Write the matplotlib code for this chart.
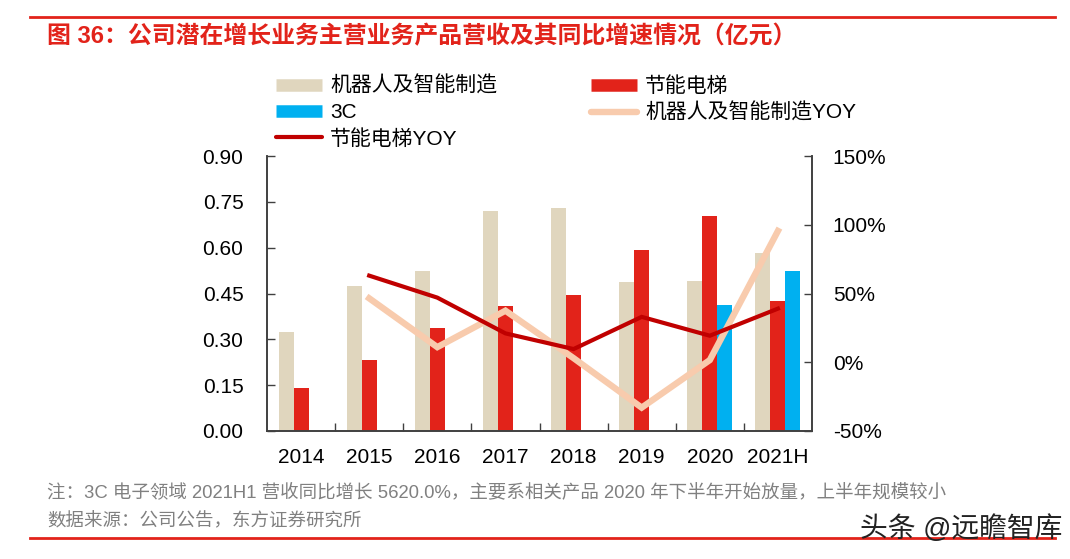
import matplotlib
matplotlib.use("Agg")
import matplotlib.pyplot as plt
import numpy as np
from matplotlib.lines import Line2D
from matplotlib.ticker import FuncFormatter, FixedLocator

plt.rcParams['font.family'] = ['Liberation Sans', 'Noto Sans CJK SC', 'DejaVu Sans']

categories = ['2014', '2015', '2016', '2017', '2018', '2019', '2020', '2021H']
robot = [0.325, 0.475, 0.524, 0.719, 0.731, 0.487, 0.491, 0.583]
elevator = [0.142, 0.232, 0.338, 0.408, 0.445, 0.592, 0.704, 0.424]
c3 = [np.nan, np.nan, np.nan, np.nan, np.nan, np.nan, 0.412, 0.523]
robot_yoy = [np.nan, 46.5, 11.0, 37.5, 3.0, -33.0, 1.6, 95.5]
elevator_yoy = [np.nan, 63.0, 47.0, 21.0, 9.6, 33.0, 19.3, 39.0]

C_BEIGE = '#E0D6BE'
C_RED = '#E2231A'
C_BLUE = '#00B0F0'
C_PEACH = '#F8CBAD'
C_DRED = '#C00000'

fig = plt.figure(figsize=(10.7, 5.59), dpi=100)
ax = fig.add_axes([267/1070, 1-431/559, (812-267)/1070, (431-156)/559])
ax2 = ax.twinx()

x = np.arange(len(categories))
w = 0.22
ax.bar(x - w, robot, w, color=C_BEIGE, zorder=2)
ax.bar(x, elevator, w, color=C_RED, zorder=2)
ax.bar(x + w, c3, w, color=C_BLUE, zorder=2)

ax.set_zorder(1)
ax2.set_zorder(2)
ax2.patch.set_visible(False)
ax2.plot(x, robot_yoy, color=C_PEACH, lw=4.6, solid_joinstyle='miter', zorder=3)
ax2.plot(x, elevator_yoy, color=C_DRED, lw=3.0, solid_joinstyle='miter', zorder=4)

ax.set_xlim(-0.5, len(categories) - 0.5)
ax.set_ylim(0, 0.9)
ax.set_yticks(np.arange(0, 0.91, 0.15))
ax.yaxis.set_major_formatter(FuncFormatter(lambda v, p: f'{v:.2f}'))
ax2.set_ylim(-50, 150)
ax2.set_yticks(np.arange(-50, 151, 50))
ax2.yaxis.set_major_formatter(FuncFormatter(lambda v, p: f'{int(round(v))}%'))

ax.set_xticks(x)
ax.set_xticklabels(categories)
ax.xaxis.set_minor_locator(FixedLocator(np.arange(0.5, len(categories) - 1, 1)))
ax.tick_params(axis='x', which='major', length=0, pad=12, labelsize=15)
ax.tick_params(axis='x', which='minor', direction='in', length=6, width=1, color='#404040')
ax.tick_params(axis='y', direction='in', length=6, width=1, color='#404040', labelsize=15, pad=17)
ax2.tick_params(axis='y', direction='in', length=6, width=1, color='#404040', labelsize=15, pad=15)
for a in (ax, ax2):
    a.spines['top'].set_visible(False)
    for s in ('left', 'right', 'bottom'):
        a.spines[s].set_color('#404040')
        a.spines[s].set_linewidth(1.2)

# Legend
handles = [
    Line2D([], [], color=C_BEIGE, lw=9, solid_capstyle='butt'),
    Line2D([], [], color=C_BLUE, lw=9, solid_capstyle='butt'),
    Line2D([], [], color=C_DRED, lw=3.0, solid_capstyle='round'),
    Line2D([], [], color=C_RED, lw=9, solid_capstyle='butt'),
    Line2D([], [], color=C_PEACH, lw=4.6, solid_capstyle='round'),
]
labels = ['机器人及智能制造', '3C', '节能电梯YOY', '节能电梯', '机器人及智能制造YOY']
fig.legend(handles, labels, ncol=2, loc='upper left', bbox_to_anchor=(276/1070, 1-76/559),
           frameon=False, fontsize=15, handlelength=2.2, handletextpad=0.4,
           columnspacing=4.5, labelspacing=0.33, borderpad=0, borderaxespad=0)

# Title and decorations
fig.add_artist(Line2D([30/1070, 1055/1070], [1-17/559, 1-17/559], color='#E2231A', lw=2))
fig.text(47/1070, 1-37/559, '图 36：公司潜在增长业务主营业务产品营收及其同比增速情况（亿元）',
         color='#E2231A', fontsize=17.2, fontweight='bold', va='center', ha='left')
fig.text(47/1070, 1-492/559,
         '注：3C 电子领域 2021H1 营收同比增长 5620.0%，主要系相关产品 2020 年下半年开始放量，上半年规模较小',
         color='#808080', fontsize=13.3, va='center', ha='left')
fig.text(47/1070, 1-522/559, '数据来源：公司公告，东方证券研究所',
         color='#808080', fontsize=13.3, va='center', ha='left')
fig.add_artist(Line2D([30/1070, 1055/1070], [1-538/559, 1-538/559], color='#E2231A', lw=2))
fig.text(1062/1070, 1-529/559, '头条 @远瞻智库', color='#222222', fontsize=20,
         va='center', ha='right', zorder=10)

fig.savefig('out.png', dpi=100)
